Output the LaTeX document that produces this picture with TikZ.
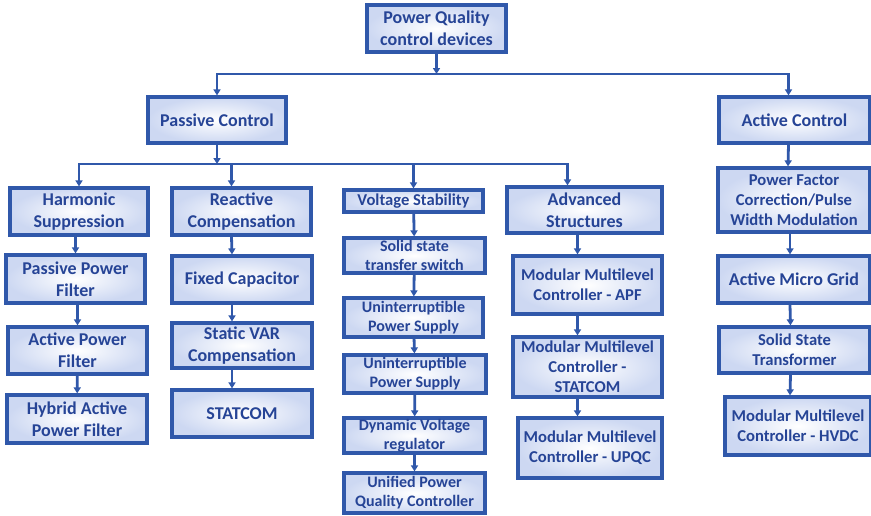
\documentclass[tikz,border=0pt]{standalone}
\usepackage{fontspec}
\setmainfont{Carlito}
\usepackage{tikz}
\usetikzlibrary{arrows.meta,positioning}
\definecolor{qline}{RGB}{48,88,170}
\definecolor{qtext}{RGB}{38,68,150}
\definecolor{qfill}{RGB}{205,216,242}
\begin{document}
\begin{tikzpicture}[
    x=1pt,y=-1pt,
    qbox/.style={draw=qline,line width=3.2pt,inner color=white,outer color=qfill,
      align=center,inner sep=1pt,text=qtext,
      font=\bfseries\fontsize{18}{22}\selectfont},
    qsmall/.style={qbox,font=\bfseries\fontsize{16}{19}\selectfont},
    qmid/.style={qbox,font=\bfseries\fontsize{16.6}{20}\selectfont},
    arr/.style={-{Triangle[length=6pt,width=7pt]},line width=2.8pt,draw=qline},
  ]
  \useasboundingbox (0,0) rectangle (871,515);

  % top levels
  \node[qbox,minimum width=139,minimum height=47] (root) at (436.5,28.5)
    {Power Quality\\control devices};
  \node[qbox,minimum width=138,minimum height=46] (passive) at (217,120) {Passive Control};
  \node[qbox,minimum width=151,minimum height=46] (active) at (794.5,120) {Active Control};

  \coordinate (j1) at (436.5,74);
  \coordinate (j2) at (217,164);
  \draw[arr] (root) -- (j1);
  \draw[arr] (j1) -| (passive);
  \draw[arr] (j1) -| ([xshift=-6]active.north);
  \draw[arr] (passive) -- (j2);

  % passive branches
  \node[qbox,minimum width=138,minimum height=47] (harm) at (79,211.5)
    {Harmonic\\Suppression};
  \node[qbox,minimum width=139,minimum height=47] (react) at (241.5,211.5)
    {Reactive\\Compensation};
  \node[qmid,minimum width=139,minimum height=22] (volt) at (413.5,201)
    {Voltage Stability};
  \node[qbox,minimum width=155,minimum height=46] (adv) at (584.5,210)
    {Advanced\\Structures};

  \draw[arr] (j2) -| (harm);
  \draw[arr] (j2) -| ([xshift=-10]react.north);
  \draw[arr] (j2) -| (volt);
  \draw[arr] (j2) -| ([xshift=-17]adv.north);

  % harmonic suppression
  \node[qbox,minimum width=139,minimum height=48] (ppf) at (75.5,279) {Passive Power\\Filter};
  \node[qbox,minimum width=139,minimum height=47] (apf) at (77.5,350.5) {Active Power\\Filter};
  \node[qbox,minimum width=140,minimum height=48] (hapf) at (77,419) {Hybrid Active\\Power Filter};
  \draw[arr] (harm.south -| ppf.north) -- (ppf);
  \draw[arr] (ppf.south -| apf.north) -- (apf);
  \draw[arr] (apf) -- (hapf);

  % reactive compensation
  \node[qbox,minimum width=140,minimum height=47] (fc) at (242,279.5) {Fixed Capacitor};
  \node[qbox,minimum width=140,minimum height=45] (svc) at (242,345.5) {Static VAR\\Compensation};
  \node[qbox,minimum width=140,minimum height=47] (stat) at (242,413.5) {STATCOM};
  \draw[arr] ([xshift=-10]react.south) -- ([xshift=-10]fc.north);
  \draw[arr] ([xshift=-10]fc.south) -- ([xshift=-10]svc.north);
  \draw[arr] ([xshift=-10]svc.south) -- ([xshift=-10]stat.north);

  % voltage stability
  \node[qsmall,minimum width=141,minimum height=35] (ssts) at (414.5,255.5)
    {Solid state\\transfer switch};
  \node[qsmall,minimum width=139,minimum height=39] (ups1) at (413.5,317.5)
    {Uninterruptible\\Power Supply};
  \node[qsmall,minimum width=142,minimum height=38] (ups2) at (415,374)
    {Uninterruptible\\Power Supply};
  \node[qsmall,minimum width=141,minimum height=35] (dvr) at (414.5,435.5)
    {Dynamic Voltage\\regulator};
  \node[qsmall,minimum width=141,minimum height=40] (upqc) at (414.5,493)
    {Unified Power\\Quality Controller};
  \draw[arr] (volt) -- (ssts);
  \draw[arr] (ssts) -- (ups1);
  \draw[arr] (ups1) -- (ups2);
  \draw[arr] (ups2) -- (dvr);
  \draw[arr] (dvr) -- (upqc);

  % advanced structures
  \node[qmid,minimum width=149,minimum height=58] (mapf) at (587.5,285)
    {Modular Multilevel\\Controller - APF};
  \node[qmid,minimum width=149,minimum height=60] (mstat) at (587.5,367)
    {Modular Multilevel\\Controller -\\STATCOM};
  \node[qmid,minimum width=144,minimum height=60] (mupqc) at (590,448)
    {Modular Multilevel\\Controller - UPQC};
  \draw[arr] ([xshift=-7]adv.south) -- ([xshift=-10]mapf.north);
  \draw[arr] ([xshift=-10]mapf.south) -- ([xshift=-10]mstat.north);
  \draw[arr] ([xshift=-10]mstat.south) -- ([xshift=-12.5]mupqc.north);

  % active control
  \node[qmid,minimum width=152,minimum height=64] (pf) at (794,200)
    {Power Factor\\Correction/Pulse\\Width Modulation};
  \node[qbox,minimum width=152,minimum height=47] (amg) at (794,279.5) {Active Micro Grid};
  \node[qmid,minimum width=151,minimum height=46] (sstr) at (794.5,350)
    {Solid State\\Transformer};
  \node[qmid,minimum width=146,minimum height=58] (hvdc) at (798,426)
    {Modular Multilevel\\Controller - HVDC};
  \draw[arr] ([xshift=-6]active.south) -- ([xshift=-6]pf.north);
  \draw[arr] ([xshift=-4]pf.south) -- ([xshift=-4]amg.north);
  \draw[arr] ([xshift=-4]amg.south) -- ([xshift=-4]sstr.north);
  \draw[arr] ([xshift=-4]sstr.south) -- ([xshift=-8]hvdc.north);
\end{tikzpicture}
\end{document}
